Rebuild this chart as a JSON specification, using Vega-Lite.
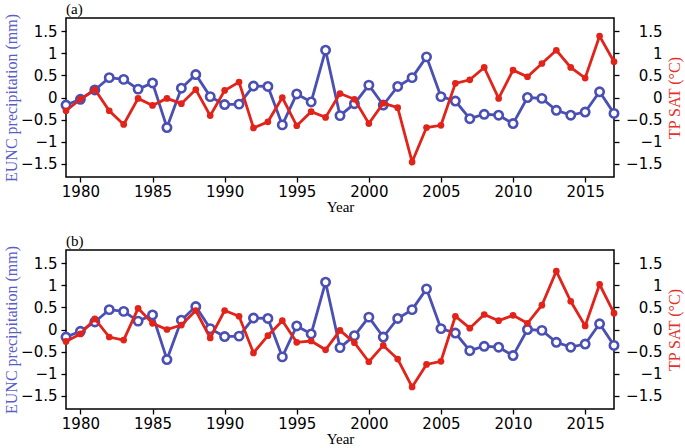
{
  "$schema": "https://vega.github.io/schema/vega-lite/v6.json",
  "padding": {"left": 2, "top": 0, "right": 2, "bottom": 0},
  "background": "white",
  "config": {
    "view": {"stroke": "black", "strokeWidth": 1.5},
    "axis": {"grid": false, "domain": false, "tickColor": "black", "tickSize": 5, "tickWidth": 1.3, "labelFont": "DejaVu Sans", "labelFontSize": 15, "labelColor": "black", "titleFont": "Liberation Serif", "titleFontSize": 16, "titleFontWeight": "normal", "titleColor": "black"}
  },
  "datasets": {
    "d": [
      {"year": 1979, "eunc": -0.17, "sat_a": -0.30, "sat_b": -0.27},
      {"year": 1980, "eunc": -0.04, "sat_a": -0.04, "sat_b": -0.10},
      {"year": 1981, "eunc": 0.17, "sat_a": 0.18, "sat_b": 0.24},
      {"year": 1982, "eunc": 0.45, "sat_a": -0.30, "sat_b": -0.17},
      {"year": 1983, "eunc": 0.41, "sat_a": -0.61, "sat_b": -0.24},
      {"year": 1984, "eunc": 0.19, "sat_a": -0.02, "sat_b": 0.48},
      {"year": 1985, "eunc": 0.33, "sat_a": -0.18, "sat_b": 0.14},
      {"year": 1986, "eunc": -0.68, "sat_a": -0.02, "sat_b": 0.00},
      {"year": 1987, "eunc": 0.21, "sat_a": -0.14, "sat_b": 0.10},
      {"year": 1988, "eunc": 0.52, "sat_a": 0.18, "sat_b": 0.43},
      {"year": 1989, "eunc": 0.02, "sat_a": -0.41, "sat_b": -0.19},
      {"year": 1990, "eunc": -0.16, "sat_a": 0.16, "sat_b": 0.43},
      {"year": 1991, "eunc": -0.15, "sat_a": 0.35, "sat_b": 0.30},
      {"year": 1992, "eunc": 0.26, "sat_a": -0.69, "sat_b": -0.53},
      {"year": 1993, "eunc": 0.25, "sat_a": -0.55, "sat_b": -0.14},
      {"year": 1994, "eunc": -0.62, "sat_a": 0.00, "sat_b": 0.20},
      {"year": 1995, "eunc": 0.08, "sat_a": -0.64, "sat_b": -0.29},
      {"year": 1996, "eunc": -0.10, "sat_a": -0.32, "sat_b": -0.26},
      {"year": 1997, "eunc": 1.07, "sat_a": -0.45, "sat_b": -0.46},
      {"year": 1998, "eunc": -0.41, "sat_a": 0.09, "sat_b": -0.02},
      {"year": 1999, "eunc": -0.14, "sat_a": -0.04, "sat_b": -0.30},
      {"year": 2000, "eunc": 0.28, "sat_a": -0.59, "sat_b": -0.73},
      {"year": 2001, "eunc": -0.17, "sat_a": -0.13, "sat_b": -0.36},
      {"year": 2002, "eunc": 0.25, "sat_a": -0.23, "sat_b": -0.67},
      {"year": 2003, "eunc": 0.45, "sat_a": -1.46, "sat_b": -1.30},
      {"year": 2004, "eunc": 0.92, "sat_a": -0.68, "sat_b": -0.79},
      {"year": 2005, "eunc": 0.02, "sat_a": -0.63, "sat_b": -0.72},
      {"year": 2006, "eunc": -0.08, "sat_a": 0.32, "sat_b": 0.30},
      {"year": 2007, "eunc": -0.48, "sat_a": 0.40, "sat_b": 0.03},
      {"year": 2008, "eunc": -0.38, "sat_a": 0.68, "sat_b": 0.34},
      {"year": 2009, "eunc": -0.40, "sat_a": -0.02, "sat_b": 0.20},
      {"year": 2010, "eunc": -0.59, "sat_a": 0.62, "sat_b": 0.32},
      {"year": 2011, "eunc": 0.00, "sat_a": 0.47, "sat_b": 0.14},
      {"year": 2012, "eunc": -0.02, "sat_a": 0.77, "sat_b": 0.55},
      {"year": 2013, "eunc": -0.29, "sat_a": 1.07, "sat_b": 1.32},
      {"year": 2014, "eunc": -0.40, "sat_a": 0.68, "sat_b": 0.64},
      {"year": 2015, "eunc": -0.33, "sat_a": 0.44, "sat_b": 0.08},
      {"year": 2016, "eunc": 0.13, "sat_a": 1.39, "sat_b": 1.02},
      {"year": 2017, "eunc": -0.36, "sat_a": 0.81, "sat_b": 0.37}
    ]
  },
  "spacing": 17,
  "vconcat": [
    {
      "title": {"text": "(a)", "anchor": "start", "frame": "group", "font": "Liberation Serif", "fontSize": 15, "fontWeight": "normal", "offset": -3},
      "width": 548,
      "height": 159,
      "data": {"name": "d"},
      "layer": [
        {
          "encoding": {
            "x": {"field": "year", "type": "quantitative", "scale": {"domain": [1979, 2017], "nice": false, "zero": false}, "axis": {"values": [1980, 1985, 1990, 1995, 2000, 2005, 2010, 2015], "format": "d", "title": "Year", "titleFontSize": 15, "labelPadding": 2, "titlePadding": 0}},
            "y": {"field": "eunc", "type": "quantitative", "scale": {"domain": [-1.8, 1.8], "nice": false, "zero": false}, "axis": {"orient": "left", "values": [-1.5, -1, -0.5, 0, 0.5, 1, 1.5], "format": "~g", "title": "EUNC precipitation (mm)", "titleColor": "#5a5ec6", "labelPadding": 4, "titlePadding": 1}}
          },
          "layer": [
            {"mark": {"type": "line", "color": "#4a4fb3", "strokeWidth": 2.8}},
            {"mark": {"type": "point", "shape": "circle", "filled": true, "fill": "white", "stroke": "#4a4fb3", "strokeWidth": 2.6, "size": 70, "opacity": 1}}
          ]
        },
        {
          "encoding": {
            "x": {"field": "year", "type": "quantitative"},
            "y": {"field": "sat_a", "type": "quantitative", "scale": {"domain": [-1.8, 1.8], "nice": false, "zero": false}, "axis": {"orient": "right", "values": [-1.5, -1, -0.5, 0, 0.5, 1, 1.5], "format": "~g", "labelAlign": "right", "labelPadding": 43, "title": "TP SAT (°C)", "titleColor": "#e8302a", "titleAngle": 270, "titlePadding": 20}}
          },
          "layer": [
            {"mark": {"type": "line", "color": "#e2231a", "strokeWidth": 2.8}},
            {"mark": {"type": "point", "shape": "circle", "filled": true, "color": "#e2231a", "size": 45, "opacity": 1}},
            {
              "data": {"values": [{"r": "R=−0.52"}]},
              "mark": {"type": "text", "align": "right", "baseline": "bottom", "dy": -2, "font": "Liberation Serif", "fontSize": 15, "color": "black"},
              "encoding": {"x": {"datum": 2017, "type": "quantitative"}, "y": {"datum": 1.8, "type": "quantitative"}, "text": {"field": "r"}}
            }
          ]
        }
      ],
      "resolve": {"scale": {"y": "independent"}}
    },
    {
      "title": {"text": "(b)", "anchor": "start", "frame": "group", "font": "Liberation Serif", "fontSize": 15, "fontWeight": "normal", "offset": -3},
      "width": 548,
      "height": 159,
      "data": {"name": "d"},
      "layer": [
        {
          "encoding": {
            "x": {"field": "year", "type": "quantitative", "scale": {"domain": [1979, 2017], "nice": false, "zero": false}, "axis": {"values": [1980, 1985, 1990, 1995, 2000, 2005, 2010, 2015], "format": "d", "title": "Year", "titleFontSize": 15, "labelPadding": 2, "titlePadding": 0}},
            "y": {"field": "eunc", "type": "quantitative", "scale": {"domain": [-1.8, 1.8], "nice": false, "zero": false}, "axis": {"orient": "left", "values": [-1.5, -1, -0.5, 0, 0.5, 1, 1.5], "format": "~g", "title": "EUNC precipitation (mm)", "titleColor": "#5a5ec6", "labelPadding": 4, "titlePadding": 1}}
          },
          "layer": [
            {"mark": {"type": "line", "color": "#4a4fb3", "strokeWidth": 2.8}},
            {"mark": {"type": "point", "shape": "circle", "filled": true, "fill": "white", "stroke": "#4a4fb3", "strokeWidth": 2.6, "size": 70, "opacity": 1}}
          ]
        },
        {
          "encoding": {
            "x": {"field": "year", "type": "quantitative"},
            "y": {"field": "sat_b", "type": "quantitative", "scale": {"domain": [-1.8, 1.8], "nice": false, "zero": false}, "axis": {"orient": "right", "values": [-1.5, -1, -0.5, 0, 0.5, 1, 1.5], "format": "~g", "labelAlign": "right", "labelPadding": 43, "title": "TP SAT (°C)", "titleColor": "#e8302a", "titleAngle": 270, "titlePadding": 20}}
          },
          "layer": [
            {"mark": {"type": "line", "color": "#e2231a", "strokeWidth": 2.8}},
            {"mark": {"type": "point", "shape": "circle", "filled": true, "color": "#e2231a", "size": 45, "opacity": 1}},
            {
              "data": {"values": [{"r": "R=−0.44"}]},
              "mark": {"type": "text", "align": "right", "baseline": "bottom", "dy": -2, "font": "Liberation Serif", "fontSize": 15, "color": "black"},
              "encoding": {"x": {"datum": 2017, "type": "quantitative"}, "y": {"datum": 1.8, "type": "quantitative"}, "text": {"field": "r"}}
            }
          ]
        }
      ],
      "resolve": {"scale": {"y": "independent"}}
    }
  ]
}
